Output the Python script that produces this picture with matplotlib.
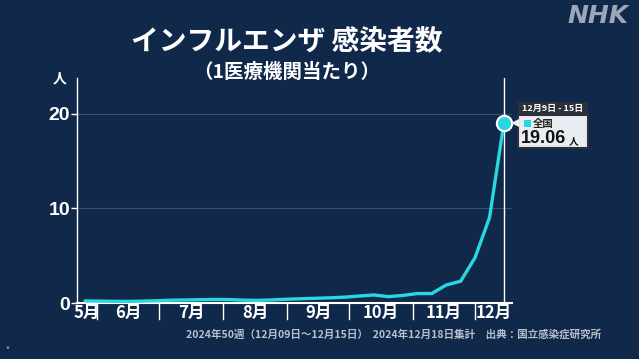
import numpy as np
import pandas as pd
import matplotlib.pyplot as plt
import matplotlib.dates as mdates
from matplotlib.patches import Rectangle, Polygon

plt.rcParams['font.family'] = ['Noto Sans CJK JP', 'DejaVu Sans']

# 週 (2024年第21週～第50週), 週末の日付
weeks = pd.date_range("2024-05-26", "2024-12-15", freq="7D")
values = [0.22, 0.2, 0.18, 0.17, 0.2, 0.24, 0.3, 0.32, 0.35,
          0.37, 0.36, 0.3, 0.28, 0.33, 0.4, 0.45, 0.5, 0.55, 0.62,
          0.74, 0.85, 0.67, 0.8, 1.0, 1.0, 1.9, 2.3, 4.8, 9.03, 19.06]
month_edges = pd.to_datetime(["2024-06-01", "2024-07-01", "2024-08-01", "2024-09-01",
                              "2024-10-01", "2024-11-01", "2024-12-01"])
month_labels = ["5月", "6月", "7月", "8月", "9月", "10月", "11月", "12月"]
yticks = [0, 10, 20]

bg = "#10284a"
cyan = "#2ad6e2"
num_font = ["Liberation Sans", "DejaVu Sans"]

fig = plt.figure(figsize=(6.39, 3.59), dpi=100, facecolor=bg)
ax = fig.add_axes([77 / 639, 56 / 359, 435 / 639, 225 / 359], facecolor=bg)

x0 = weeks[0] - pd.Timedelta(days=3.9)
x1 = weeks[-1] + pd.Timedelta(days=3.9)
ax.set_xlim(x0, x1)
ax.set_ylim(0, 23.8)

ax.plot(weeks, values, color=cyan, lw=2.4, solid_capstyle="round", zorder=3)
ax.axvline(weeks[-1], color="white", lw=1, zorder=2)
ax.plot(weeks[-1], values[-1], "o", ms=11, mfc=cyan, mec="white", mew=1.5, zorder=4,
        clip_on=False)

for v in yticks[1:]:
    ax.axhline(v, color="#3a4f6e", lw=0.8, zorder=1)

for s in ["top", "right"]:
    ax.spines[s].set_visible(False)
ax.spines["left"].set_color("white")
ax.spines["bottom"].set_color("white")
ax.spines["left"].set_linewidth(1)
ax.spines["bottom"].set_linewidth(1.5)

ax.set_yticks(yticks)
ax.set_yticklabels([str(v) for v in yticks], fontsize=14, fontweight="bold",
                   color="white", family=num_font)
ax.tick_params(axis="y", colors="white", length=4, width=1, pad=1)
ax.set_xticks([])

# 月の区切りとラベル
for d in month_edges:
    ax.plot([d, d], [0, -1.7], color="white", lw=1, clip_on=False)
edges = [x0] + list(month_edges) + [x1]
for i, lab in enumerate(month_labels):
    mid = edges[i] + (edges[i + 1] - edges[i]) / 2
    ax.text(mid, -1.0, lab, ha="center", va="center", color="white",
            fontsize=12, fontweight="bold")

ax.text(-0.025, 1.0, "人", transform=ax.transAxes, ha="right", va="center",
        color="white", fontsize=10, fontweight="bold")

fig.text(287 / 639, 1 - 42 / 359, "インフルエンザ 感染者数", ha="center", va="center",
         color="white", fontsize=20, fontweight="bold")
fig.text(287 / 639, 1 - 72 / 359, "（1医療機関当たり）", ha="center", va="center",
         color="white", fontsize=14, fontweight="bold")
fig.text(629 / 639, 1 - 16 / 359, "NHK", ha="right", va="center", color="#9ba6b6",
         fontsize=18, fontweight="bold", style="italic", family="DejaVu Sans")
fig.text(601 / 639, 1 - 334 / 359,
         "2024年50週（12月09日～12月15日）  2024年12月18日集計　出典：国立感染症研究所",
         ha="right", va="center", color="#b8c0cc", fontsize=7.6, fontweight="bold")
fig.text(5 / 639, 1 - 350 / 359, "*", ha="left", va="center", color="#b8c0cc", fontsize=6)

# ツールチップ
def fx(px):
    return px / 639

def fy(py):
    return 1 - py / 359

fig.patches.append(Rectangle((fx(518), fy(115)), fx(70), 13 / 359, transform=fig.transFigure,
                             facecolor="#2b303a", edgecolor="none", zorder=5))
fig.patches.append(Rectangle((fx(518), fy(148)), fx(70), 33 / 359, transform=fig.transFigure,
                             facecolor="#e9ecf1", edgecolor="#2b303a", lw=1.5, zorder=5))
fig.patches.append(Polygon([(fx(511), fy(123)), (fx(519), fy(119)), (fx(519), fy(127))],
                           closed=True, transform=fig.transFigure, facecolor="#e9ecf1",
                           edgecolor="none", zorder=6))
fig.patches.append(Rectangle((fx(524), fy(127)), 7 / 639, 7 / 359, transform=fig.transFigure,
                             facecolor=cyan, edgecolor="none", zorder=6))
fig.text(fx(553), fy(108.5), "12月9日 - 15日", ha="center", va="center", color="white",
         fontsize=6.5, fontweight="bold", zorder=7)
fig.text(fx(533), fy(123.5), "全国", ha="left", va="center", color="#222",
         fontsize=7.5, fontweight="bold", zorder=7)
fig.text(fx(521), fy(139), "19.06", ha="left", va="center", color="#111",
         fontsize=13, fontweight="bold", family=num_font, zorder=7)
fig.text(fx(569), fy(141), "人", ha="left", va="center", color="#111",
         fontsize=7, fontweight="bold", zorder=7)

fig.savefig("out.png", dpi=100, facecolor=bg)
